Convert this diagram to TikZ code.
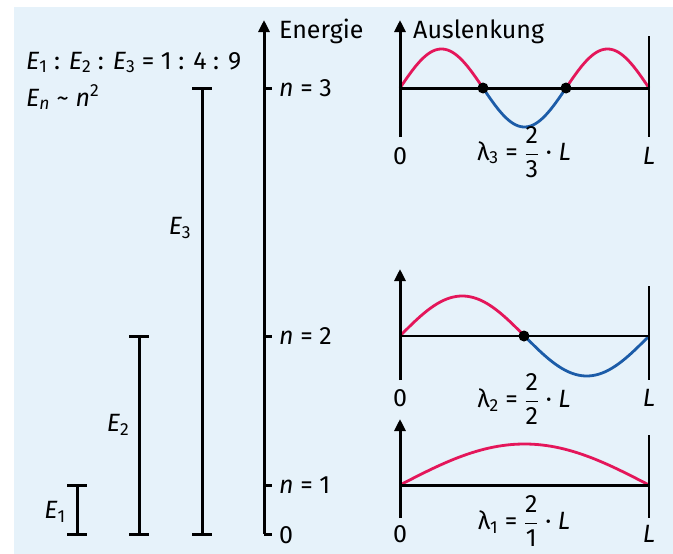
\documentclass[tikz,border=0pt]{standalone}
\usepackage{amsmath}
\usepackage{fontspec}
\setmainfont{Fira Sans}
\usetikzlibrary{arrows.meta}
\definecolor{bgblue}{RGB}{230,242,250}
\definecolor{wavered}{RGB}{228,22,90}
\definecolor{waveblue}{RGB}{28,92,168}
\tikzset{
  axis/.style={line width=3pt,-{Triangle[length=12pt,width=11pt]}},
  bar/.style={line width=3pt},
  thinbar/.style={line width=2.2pt},
  wave/.style={line width=2.8pt,samples=60,smooth},
  knot/.style={circle,fill=black,inner sep=0pt,minimum size=11pt},
  lbl/.style={inner sep=1pt}
}
\newcommand{\Eidx}[1]{\textit{E}\textsubscript{#1}}
\newcommand{\lam}[1]{λ\textsubscript{#1} = $\dfrac{\text{2}}{\text{#1}}$ · \textit{L}}
\begin{document}
\begin{tikzpicture}[x=1pt,y=-1pt,font=\fontsize{25}{30}\selectfont]
    \useasboundingbox (0,0) rectangle (673,554);
    \fill[bgblue] (14,7) rectangle (673,554);
    % top left formulas
    \node[lbl,anchor=base west] (ratio) at (25,69) {\Eidx{1} : \Eidx{2} : \Eidx{3} = 1 : 4 : 9};
    \node[lbl,anchor=base west] (law) at (25,106) {\Eidx{\textit{n}} \textasciitilde{} \textit{n}\textsuperscript{2}};
    % energy axis
    \coordinate (e0) at (264,534);
    \coordinate (etop) at (264,20);
    \draw[axis] (e0)--(etop);
    \node[lbl,anchor=base west] (energie) at (278,38) {Energie};
    \draw[bar] (e0)--++(8,0);
    \node[lbl,anchor=west] (nzero) at (278,535) {0};
    \foreach \n/\y in {1/485,2/336,3/88}{
        \coordinate (lev\n) at (264,\y);
        \draw[bar] (lev\n)--++(8,0);
        \node[lbl,anchor=west] (nlab\n) at (278,\y) {\textit{n} = \n};
    }
    % energy bars
    \foreach \i/\x/\y in {1/77/485,2/139/336,3/202/88}{
        \coordinate (btop\i) at (\x,\y);
        \coordinate (bbot\i) at (\x,534);
        \draw[bar] (btop\i)--(bbot\i);
        \draw[bar] ([xshift=-10pt]btop\i)--([xshift=10pt]btop\i);
        \draw[bar] ([xshift=-10pt]bbot\i)--([xshift=10pt]bbot\i);
    }
    \node[lbl] (elab1) at (55,512) {\Eidx{1}};
    \node[lbl] (elab2) at (118,425) {\Eidx{2}};
    \node[lbl] (elab3) at (180,228) {\Eidx{3}};
    % n = 3
    \draw[wave,wavered,domain=0:1/3] plot ({400+249*\x},{88-39*sin(540*\x)});
    \draw[wave,waveblue,domain=1/3:2/3] plot ({400+249*\x},{88-39*sin(540*\x)});
    \draw[wave,wavered,domain=2/3:1] plot ({400+249*\x},{88-39*sin(540*\x)});
    \coordinate (a3) at (400,137);
    \coordinate (b3) at (649,88);
    \draw[axis] (a3)--(400,20);
    \draw[bar] (b3 -| a3)--(b3);
    \draw[thinbar] (649,36)--(649,137);
    \node[knot] (k31) at (483,88) {};
    \node[knot] (k32) at (566,88) {};
    \node[lbl,anchor=base west] (ausl) at (412,38) {Auslenkung};
    \node[lbl] (zero3) at (400,156) {0};
    \node[lbl] (ell3) at (649,156) {\textit{L}};
    \node[lbl] (lam3) at (524,152) {\lam{3}};
    % n = 2
    \draw[wave,wavered,domain=0:1/2] plot ({400+249*\x},{336-40*sin(360*\x)});
    \draw[wave,waveblue,domain=1/2:1] plot ({400+249*\x},{336-40*sin(360*\x)});
    \coordinate (a2) at (400,380);
    \coordinate (b2) at (649,336);
    \draw[axis] (a2)--(400,269);
    \draw[thinbar] (b2 -| a2)--(b2);
    \draw[thinbar] (649,286)--(649,380);
    \node[knot] (k21) at (524,336) {};
    \node[lbl] (zero2) at (400,398) {0};
    \node[lbl] (ell2) at (649,398) {\textit{L}};
    \node[lbl] (lam2) at (524,399) {\lam{2}};
    % n = 1
    \draw[wave,wavered,domain=0:1] plot ({400+249*\x},{485-41*sin(180*\x)});
    \coordinate (a1) at (400,518);
    \coordinate (b1) at (649,485);
    \draw[axis] (a1)--(400,419);
    \draw[bar] (b1 -| a1)--(b1);
    \draw[thinbar] (649,435)--(649,518);
    \node[lbl] (zero1) at (400,534) {0};
    \node[lbl] (ell1) at (649,534) {\textit{L}};
    \node[lbl] (lam1) at (524,521) {\lam{1}};
\end{tikzpicture}
\end{document}
